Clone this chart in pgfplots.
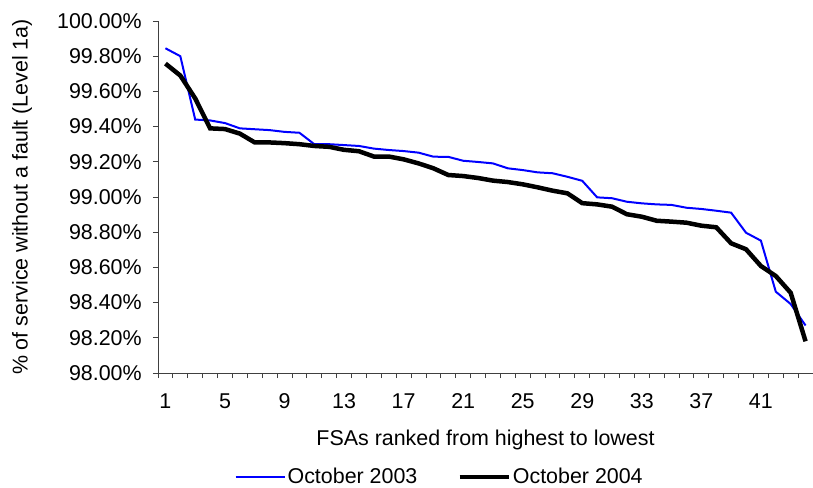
\documentclass[border=0pt]{standalone}
\usepackage{fontspec}
\setmainfont{Liberation Sans}
\usepackage{pgfplots}
\pgfplotsset{compat=1.18}

\definecolor{exblue}{RGB}{0,0,255}

\begin{document}
\fontsize{21.5}{25}\selectfont
\begin{tikzpicture}
\begin{axis}[
  scale only axis,
  width=655bp, height=352bp,
  xmin=0.5, xmax=44.5,
  ymin=98, ymax=100,
  axis x line*=bottom, axis y line*=left,
  axis line style={black!75, line width=0.9bp},
  tick align=outside,
  xtick={1,5,...,41},
  major x tick style={draw=none},
  minor xtick={0.5,1.5,...,44.5},
  minor tick length=5bp,
  major tick length=5bp,
  tick style={black!75, line width=0.9bp},
  ytick={98,98.2,98.4,98.6,98.8,99,99.2,99.4,99.6,99.8,100},
  yticklabel={\pgfmathprintnumber[fixed,fixed zerofill,precision=2]{\tick}\%},
  /pgf/number format/assume math mode=true,
  yticklabel style={xshift=-4bp},
  xticklabel style={yshift=-8bp},
  xlabel={FSAs ranked from highest to lowest},
  ylabel={\% of service without a fault (Level 1a)},
  xlabel style={at={(axis description cs:0.5,0)}, anchor=center, yshift=-67bp},
  ylabel style={at={(axis description cs:-0.2076,0.5)}, anchor=center},
  clip=false,
  legend columns=2,
  legend style={draw=none, fill=none, at={(axis description cs:0.43,0)}, anchor=center, yshift=-104bp,
    /tikz/every even column/.append style={column sep=38bp}},
  legend image code/.code={\draw[#1] (0bp,0bp) -- (49bp,0bp);},
]
\addplot[exblue, line width=2bp] coordinates {
(1,99.845) (2,99.80) (3,99.44) (4,99.435) (5,99.42) (6,99.39) (7,99.385) (8,99.38)
(9,99.37) (10,99.365) (11,99.30) (12,99.30) (13,99.295) (14,99.29) (15,99.275) (16,99.267)
(17,99.261) (18,99.252) (19,99.229) (20,99.228) (21,99.206) (22,99.199) (23,99.191) (24,99.163)
(25,99.153) (26,99.140) (27,99.135) (28,99.115) (29,99.092) (30,98.998) (31,98.993) (32,98.973)
(33,98.964) (34,98.958) (35,98.955) (36,98.939) (37,98.932) (38,98.922) (39,98.911) (40,98.797)
(41,98.752) (42,98.462) (43,98.392) (44,98.27)
};
\addlegendentry{October 2003}
\addplot[black, line width=4.5bp] coordinates {
(1,99.758) (2,99.69) (3,99.56) (4,99.39) (5,99.386) (6,99.36) (7,99.31) (8,99.31)
(9,99.306) (10,99.30) (11,99.29) (12,99.285) (13,99.268) (14,99.26) (15,99.23) (16,99.23)
(17,99.214) (18,99.191) (19,99.163) (20,99.125) (21,99.119) (22,99.108) (23,99.093) (24,99.085)
(25,99.072) (26,99.055) (27,99.036) (28,99.021) (29,98.965) (30,98.958) (31,98.945) (32,98.902)
(33,98.888) (34,98.865) (35,98.860) (36,98.854) (37,98.837) (38,98.828) (39,98.737) (40,98.703)
(41,98.608) (42,98.551) (43,98.456) (44,98.18)
};
\addlegendentry{October 2004}
\end{axis}
\pgfresetboundingbox
\useasboundingbox (-158bp,-115bp) rectangle (655bp,373bp);
\end{tikzpicture}
\end{document}
